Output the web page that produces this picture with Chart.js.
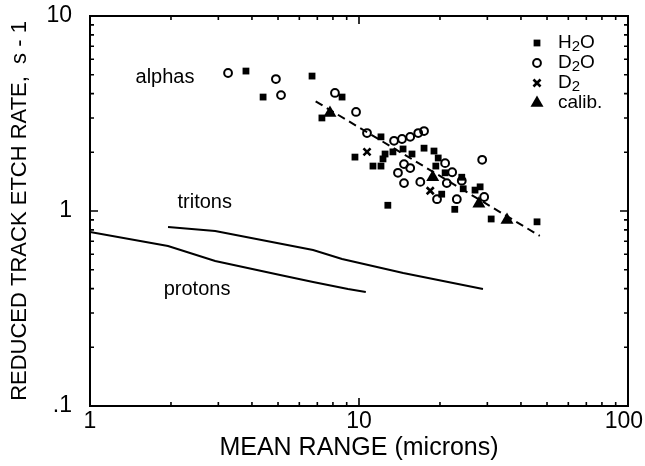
<!DOCTYPE html>
<html><head><meta charset="utf-8">
<script src="https://cdn.jsdelivr.net/npm/chart.js@4/dist/chart.umd.min.js"></script>
<style>html,body{margin:0;padding:0;background:#fff}#wrap{width:645px;height:466px}</style>
</head><body><div id="wrap"><canvas id="c" width="645" height="466"></canvas></div>
<script>
// ---- data ----
const h2oX = [3.80, 6.69, 4.40, 8.65, 7.28, 12.07, 9.66, 12.5, 12.28, 13.37, 11.27, 12.07, 14.58, 15.74, 17.45, 19.0, 19.7, 19.3, 20.9, 20.3, 24.1, 24.4, 22.7, 12.8, 27.0, 28.2, 31.0, 45.9];
const h2oY = [5.22, 4.92, 3.84, 3.84, 3.00, 2.40, 1.89, 1.96, 1.85, 2.01, 1.70, 1.70, 2.08, 1.96, 2.10, 2.03, 1.87, 1.70, 1.57, 1.22, 1.49, 1.30, 1.02, 1.07, 1.28, 1.33, 0.91, 0.88];
const d2oX = [3.26, 4.91, 5.13, 8.14, 9.75, 10.71, 13.5, 14.45, 15.5, 16.6, 17.45, 14.7, 15.5, 13.96, 14.7, 16.9, 19.5, 20.9, 22.2, 21.2, 24.1, 23.1, 28.7, 29.2];
const d2oY = [5.10, 4.75, 3.93, 4.03, 3.22, 2.51, 2.29, 2.34, 2.40, 2.51, 2.57, 1.74, 1.66, 1.57, 1.39, 1.41, 1.15, 1.76, 1.58, 1.39, 1.43, 1.15, 1.83, 1.18];
const d2X = [10.71, 18.4];
const d2Y = [2.01, 1.27];
const calibX = [7.80, 18.8, 27.9, 35.5];
const calibY = [3.18, 1.49, 1.09, 0.90];
const fitX = [6.9, 47];
const fitY = [3.65, 0.745];
const tritonX = [1.95, 2.92, 6.75, 8.65, 14.6, 28.9];
const tritonY = [0.828, 0.789, 0.631, 0.567, 0.481, 0.398];
const protonX = [1.0, 1.95, 2.92, 5.09, 6.75, 9.10, 10.6];
const protonY = [0.78, 0.662, 0.554, 0.470, 0.432, 0.398, 0.384];
const xTickVals = [1, 10, 100];
const xTickLabels = ['1', '10', '100'];
const yTickVals = [0.1, 1, 10];
const yTickLabels = ['.1', '1', '10'];
const annotations = [
  {text: 'alphas', x: 1.90, y: 4.82},
  {text: 'tritons', x: 2.67, y: 1.10},
  {text: 'protons', x: 2.50, y: 0.394}
];
const legendItems = [
  {parts: [['H', 0], ['2', 1], ['O', 0]], style: 'rect'},
  {parts: [['D', 0], ['2', 1], ['O', 0]], style: 'circle'},
  {parts: [['D', 0], ['2', 1]], style: 'crossRot'},
  {parts: [['calib.', 0]], style: 'triangle'}
];

const FONT = '"Liberation Sans", Arial, Helvetica, sans-serif';
const pts = (xs, ys) => xs.map((x, i) => ({x: x, y: ys[i]}));

const styleMap = {
  rect: {pointStyle: 'rect', radius: 4.8, borderWidth: 0, fill: true},
  circle: {pointStyle: 'circle', radius: 3.9, borderWidth: 2, fill: false},
  crossRot: {pointStyle: 'crossRot', radius: 5, borderWidth: 2.6, fill: false},
  triangle: {pointStyle: 'triangle', radius: 7.5, borderWidth: 0, fill: true}
};

const framePlugin = {
  id: 'frame',
  afterDraw(chart) {
    const ctx = chart.ctx, a = chart.chartArea;
    const xs = chart.scales.x, ys = chart.scales.y;
    ctx.save();
    ctx.strokeStyle = '#000';
    ctx.lineWidth = 2;
    ctx.strokeRect(a.left, a.top, a.right - a.left, a.bottom - a.top);
    ctx.lineWidth = 1.6;
    const majL = 8, minL = 4;
    const decs = (lo, hi) => { const out = []; for (let d = lo; d < hi * 0.999; d *= 10) { for (let k = 1; k < 10; k++) out.push({v: d * k, major: k === 1}); } out.push({v: hi, major: true}); return out; };
    decs(xTickVals[0], xTickVals[xTickVals.length - 1]).forEach(t => {
      const p = xs.getPixelForValue(t.v), L = t.major ? majL : minL;
      ctx.beginPath();
      ctx.moveTo(p, a.bottom); ctx.lineTo(p, a.bottom - L);
      ctx.moveTo(p, a.top); ctx.lineTo(p, a.top + L);
      ctx.stroke();
    });
    decs(yTickVals[0], yTickVals[yTickVals.length - 1]).forEach(t => {
      const p = ys.getPixelForValue(t.v), L = t.major ? majL : minL;
      ctx.beginPath();
      ctx.moveTo(a.left, p); ctx.lineTo(a.left + L, p);
      ctx.moveTo(a.right, p); ctx.lineTo(a.right - L, p);
      ctx.stroke();
    });
    ctx.fillStyle = '#000';
    // x tick labels (kept inside the canvas)
    ctx.font = '23px ' + FONT;
    ctx.textAlign = 'center';
    ctx.textBaseline = 'middle';
    xTickVals.forEach((v, i) => {
      const w = ctx.measureText(xTickLabels[i]).width;
      let p = xs.getPixelForValue(v);
      p = Math.min(p, chart.width - 2 - w / 2);
      ctx.fillText(xTickLabels[i], p, a.bottom + 16);
    });
    // annotations
    ctx.font = '20px ' + FONT;
    annotations.forEach(an => {
      ctx.fillText(an.text, xs.getPixelForValue(an.x), ys.getPixelForValue(an.y));
    });
    // legend
    const lx = 537, ly0 = 43, dy = 20;
    legendItems.forEach((it, i) => {
      const y = ly0 + i * dy;
      const st = styleMap[it.style];
      ctx.lineWidth = st.borderWidth || 1;
      ctx.strokeStyle = '#000';
      ctx.fillStyle = st.fill ? '#000' : 'rgba(0,0,0,0)';
      Chart.helpers.drawPoint(ctx, {pointStyle: st.pointStyle, radius: st.radius, borderWidth: st.borderWidth, rotation: 0}, lx, y);
      ctx.fillStyle = '#000';
      let tx = lx + 21;
      ctx.textAlign = 'left';
      ctx.textBaseline = 'middle';
      it.parts.forEach(([s, sub]) => {
        ctx.font = (sub ? '15px ' : '19px ') + FONT;
        ctx.fillText(s, tx, y + (sub ? 4 : 0));
        tx += ctx.measureText(s).width;
      });
    });
    ctx.restore();
  }
};

function scatterSet(data, key) {
  const st = styleMap[key];
  return {
    data: data, showLine: false,
    pointStyle: st.pointStyle, pointRadius: st.radius,
    pointBorderWidth: st.borderWidth,
    pointBackgroundColor: st.fill ? '#000' : 'rgba(0,0,0,0)',
    pointBorderColor: '#000'
  };
}
function lineSet(data, dash) {
  return {
    data: data, showLine: true, pointRadius: 0, borderColor: '#000',
    borderWidth: 2, borderDash: dash || [], fill: false, tension: 0
  };
}

new Chart(document.getElementById('c'), {
  type: 'scatter',
  data: {
    datasets: [
      lineSet(pts(protonX, protonY)),
      lineSet(pts(tritonX, tritonY)),
      lineSet(pts(fitX, fitY), [8, 5]),
      scatterSet(pts(h2oX, h2oY), 'rect'),
      scatterSet(pts(d2oX, d2oY), 'circle'),
      scatterSet(pts(d2X, d2Y), 'crossRot'),
      scatterSet(pts(calibX, calibY), 'triangle')
    ]
  },
  plugins: [framePlugin],
  options: {
    responsive: false, animation: false, devicePixelRatio: 1,
    layout: {padding: {left: 0, right: 17, top: 16, bottom: 0}},
    plugins: {legend: {display: false}, tooltip: {enabled: false}},
    scales: {
      x: {
        type: 'logarithmic', min: 1, max: 100,
        grid: {display: false}, border: {display: false},
        afterBuildTicks: s => { s.ticks = xTickVals.map(v => ({value: v})); },
        afterFit: s => { s.height = 60; s.paddingLeft = 0; s.paddingRight = 0; },
        ticks: {display: false},
        title: {display: true, text: 'MEAN RANGE (microns)', color: '#000', font: {family: FONT, size: 25}, padding: {top: 0, bottom: 3}}
      },
      y: {
        type: 'logarithmic', min: 0.1, max: 10,
        grid: {display: false}, border: {display: false},
        afterBuildTicks: s => { s.ticks = yTickVals.map(v => ({value: v})); },
        afterFit: s => { s.width = 90; s.paddingTop = 0; s.paddingBottom = 0; },
        ticks: {color: '#000', font: {family: FONT, size: 23}, padding: 10, autoSkip: false,
          callback: (v, i) => yTickLabels[i]},
        title: {display: true, text: 'REDUCED TRACK ETCH RATE,  s - 1', color: '#000', font: {family: FONT, size: 22}, padding: {top: 7, bottom: 0}}
      }
    }
  }
});
</script>
</body></html>
